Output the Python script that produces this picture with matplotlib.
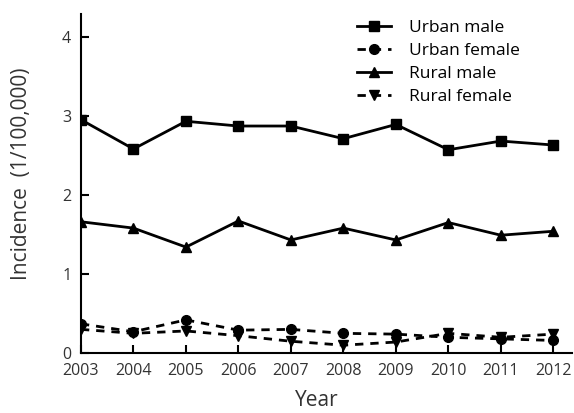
import matplotlib.pyplot as plt

plt.rcParams['font.family'] = ['Open Sans', 'DejaVu Sans']

years = [2003, 2004, 2005, 2006, 2007, 2008, 2009, 2010, 2011, 2012]
urban_male = [2.95, 2.58, 2.93, 2.87, 2.87, 2.71, 2.89, 2.57, 2.68, 2.63]
urban_female = [0.37, 0.27, 0.42, 0.29, 0.30, 0.25, 0.24, 0.20, 0.18, 0.16]
rural_male = [1.66, 1.58, 1.34, 1.67, 1.43, 1.58, 1.43, 1.65, 1.49, 1.54]
rural_female = [0.30, 0.25, 0.28, 0.22, 0.15, 0.10, 0.14, 0.25, 0.20, 0.24]

fig = plt.figure(figsize=(5.74, 4.13), dpi=100)
ax = fig.add_axes([0.141, 0.145, 0.855, 0.82])

dash = (0, (3, 2.5))
ax.plot(years, urban_male, '-', color='black', marker='s', markersize=7, lw=2, label='Urban male')
ax.plot(years, urban_female, linestyle=dash, color='black', marker='o', markersize=7, lw=2, label='Urban female')
ax.plot(years, rural_male, '-', color='black', marker='^', markersize=7, lw=2, label='Rural male')
ax.plot(years, rural_female, linestyle=dash, color='black', marker='v', markersize=7, lw=2, label='Rural female')

ax.set_xlim(2003, 2012.35)
ax.set_ylim(0, 4.28)
ax.set_xticks(years)
ax.set_yticks([0, 1, 2, 3, 4])
ax.spines['top'].set_visible(False)
ax.spines['right'].set_visible(False)
ax.spines['left'].set_linewidth(1.5)
ax.spines['bottom'].set_linewidth(1.5)
ax.tick_params(direction='in', length=6, width=1.5, labelsize=11.5, labelcolor='#333333')
ax.tick_params(axis='x', pad=7)
ax.tick_params(axis='y', pad=7)
ax.set_xlabel('Year', fontsize=15, color='#333333')
ax.set_ylabel('Incidence  (1/100,000)', fontsize=15, color='#333333')
ax.xaxis.set_label_coords(0.48, -0.11)
ax.yaxis.set_label_coords(-0.1, 0.53)

ax.legend(loc='upper left', bbox_to_anchor=(0.53, 1.03), frameon=False, fontsize=12.5,
          handlelength=2.0, handletextpad=1.0, labelspacing=0.4)

fig.savefig('out.png', dpi=100)
